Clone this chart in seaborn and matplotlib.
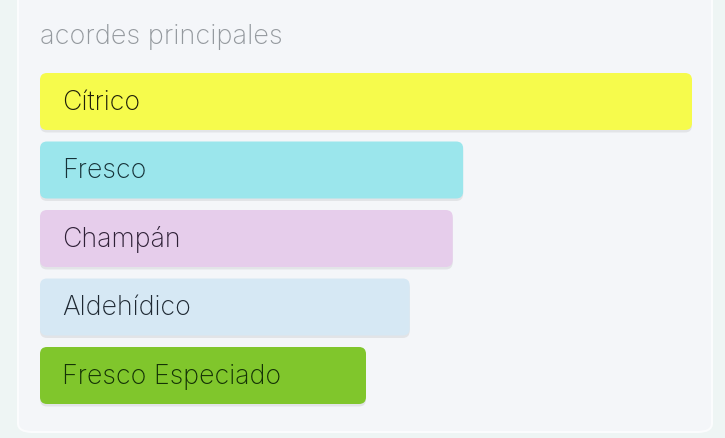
import matplotlib
matplotlib.use("Agg")
import matplotlib.pyplot as plt
import seaborn as sns
import pandas as pd
from matplotlib.patches import FancyBboxPatch

categories = ["Cítrico", "Fresco", "Champán", "Aldehídico", "Fresco Especiado"]
values = [100, 64.9, 63.3, 56.7, 50.0]
bar_colors = ["#f6fb4c", "#9be6ec", "#e6cdeb", "#d6e8f4", "#80c62c"]
text_colors = ["#20200a", "#163238", "#2e2036", "#1e2832", "#143206"]
title = "acordes principales"

sns.set_theme(style="white")
plt.rcParams["font.family"] = ["Inter", "DejaVu Sans"]

W, H = 725, 438
fig = plt.figure(figsize=(W / 100, H / 100), dpi=100)
fig.patch.set_facecolor("#eef5f4")

# card
card = FancyBboxPatch((18 / W, 1 - 432 / H), (712 - 18) / W, 450 / H,
                      boxstyle="round,pad=0,rounding_size=0.02",
                      transform=fig.transFigure, facecolor="#f4f6f9",
                      edgecolor="#fbfcfd", linewidth=1.5, zorder=-5)
fig.patches.append(card)

ax_left, ax_right = 40 / W, 692 / W
ax_top_px, ax_bot_px = 67.25, 409.75
ax = fig.add_axes([ax_left, 1 - ax_bot_px / H, ax_right - ax_left, (ax_bot_px - ax_top_px) / H])
ax.set_facecolor("none")
ax.set_zorder(5)

df = pd.DataFrame({"acorde": categories, "valor": values})
sns.barplot(data=df, y="acorde", x="valor", hue="acorde", palette=bar_colors,
            width=0.832, legend=False, ax=ax, saturation=1)
ax.set_xlim(0, 100)
ax.set_ylim(4.5, -0.5)
ax.axis("off")

# replace bars by rounded ones
xpp = 100 / (W * (ax_right - ax_left))
ypp = 5 / (ax_bot_px - ax_top_px)
aspect = ypp / xpp
r = 7 * xpp
bars = list(ax.patches)
for p in bars:
    x0, y0 = p.get_x(), p.get_y()
    w, h = p.get_width(), p.get_height()
    fc = p.get_facecolor()
    p.set_visible(False)
    shadow = FancyBboxPatch((x0, y0 + 2.5 * ypp), w, h,
                            boxstyle=f"round,pad=0,rounding_size={r}",
                            mutation_aspect=aspect, facecolor="#000000",
                            alpha=0.07, edgecolor="none", zorder=1)
    ax.add_patch(shadow)
    rb = FancyBboxPatch((x0, y0), w, h,
                        boxstyle=f"round,pad=0,rounding_size={r}",
                        mutation_aspect=aspect, facecolor=fc,
                        edgecolor="none", zorder=2)
    ax.add_patch(rb)

for i, (c, tc) in enumerate(zip(categories, text_colors)):
    ax.text(22 * xpp, i + 0.02, c, va="center", ha="left", fontsize=19.3,
            color=tc, fontweight="light", zorder=3)

fig.text(40 / W, 1 - 37 / H, title, ha="left", va="center", fontsize=19.5,
         color="#94999e", fontweight="light", zorder=6)

fig.savefig("out.png", dpi=100, facecolor=fig.get_facecolor())
